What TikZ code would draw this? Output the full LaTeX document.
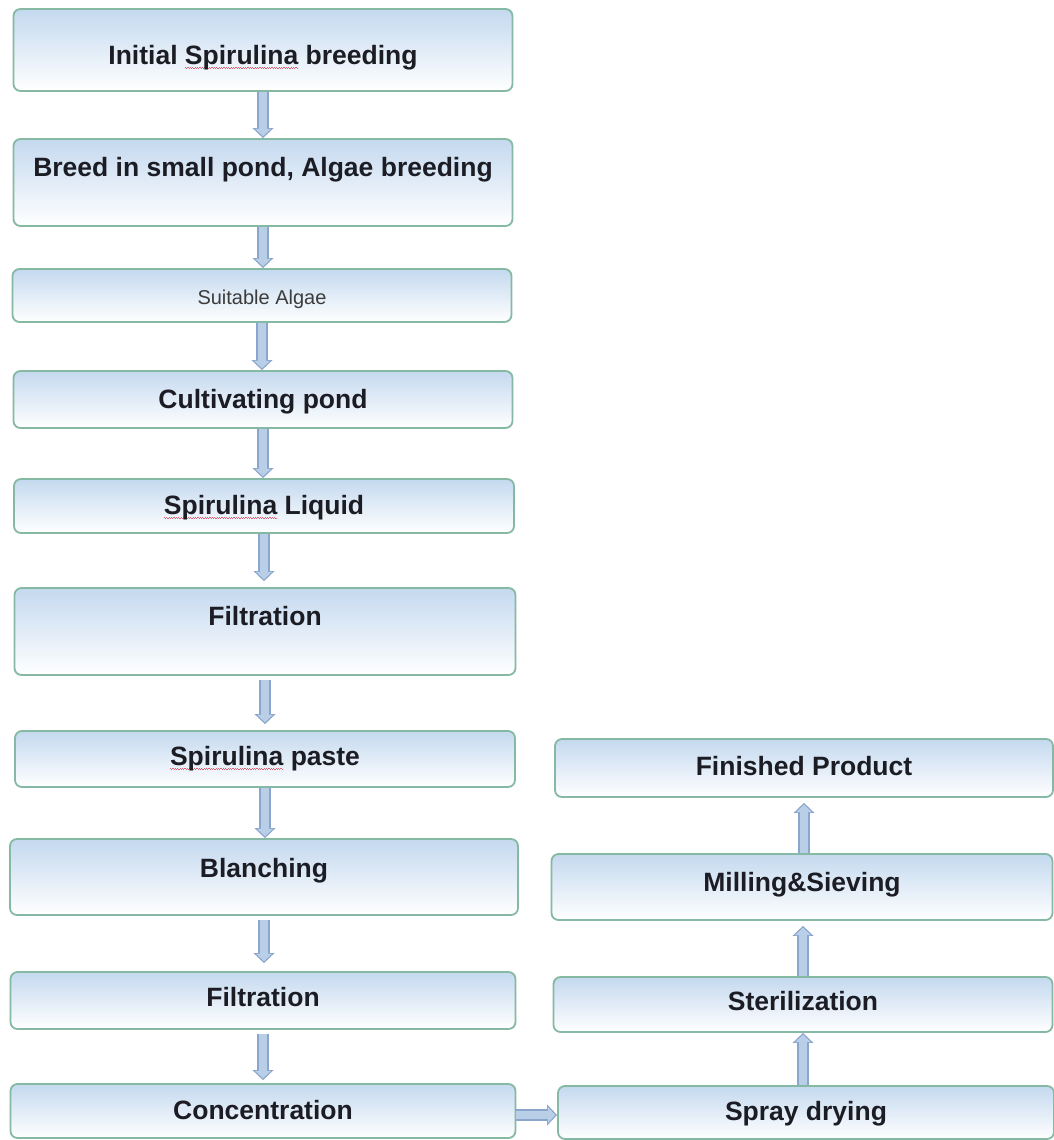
\documentclass[tikz,border=0pt]{standalone}
\usepackage{fontspec}
\setmainfont{Liberation Sans}
\usetikzlibrary{arrows.meta}
\definecolor{stageline}{HTML}{86B9A3}
\definecolor{stagetop}{HTML}{C4D9EF}
\definecolor{stagetext}{HTML}{1C1C24}
\definecolor{suittext}{HTML}{3C3C3C}
\definecolor{flowedge}{HTML}{8AA6CC}
\definecolor{flowfill}{HTML}{B9CFE8}
\definecolor{spellred}{HTML}{E06070}
\newsavebox{\spellbox}
\newcommand{\spellchk}[1]{\sbox{\spellbox}{#1}%
  \rlap{\hbox to\wd\spellbox{\color{spellred}%
    \leaders\hbox{\rule[-3.6pt]{1.2pt}{0.7pt}\rule[-4.6pt]{1.2pt}{0.7pt}}\hfil}}%
  \usebox{\spellbox}}

\begin{document}
\begin{tikzpicture}[x=1pt,y=-1pt,
    stage/.style={draw=stageline,line width=1.8pt,rounded corners=7pt,
      top color=stagetop,bottom color=white,inner sep=0pt,anchor=base,
      text=stagetext,font=\bfseries\fontsize{26.5}{30}\selectfont},
    flow/.style={draw=flowedge,line width=11.5pt,
      -{Triangle[length=10pt,width=21pt,line width=0pt]},
      postaction={draw=flowfill,line width=8pt,
        -{Triangle[length=7.5pt,width=16pt,line width=0pt]},shorten >=1.8pt}}]
    \path[use as bounding box,fill=white] (0,0) rectangle (1054,1140);

    \node[stage,minimum width=499pt,text height=55pt,text depth=27pt] (init) at (263,64) {Initial \spellchk{Spirulina} breeding};
    \node[stage,minimum width=499pt,text height=37pt,text depth=50pt] (breed) at (263,176) {Breed in small pond, Algae breeding};
    \node[stage,minimum width=499pt,text height=35pt,text depth=18pt,text=suittext,font=\fontsize{20}{24}\selectfont] (suit) at (262,304) {Suitable Algae};
    \node[stage,minimum width=499pt,text height=37pt,text depth=20pt] (cult) at (263,408) {Cultivating pond};
    \node[stage,minimum width=500pt,text height=35pt,text depth=19pt] (liquid) at (264,514) {\spellchk{Spirulina} Liquid};
    \node[stage,minimum width=501pt,text height=37pt,text depth=50pt] (filtA) at (265,625) {Filtration};
    \node[stage,minimum width=500pt,text height=34pt,text depth=22pt] (paste) at (265,765) {\spellchk{Spirulina} paste};
    \node[stage,minimum width=508pt,text height=38pt,text depth=38pt] (blanch) at (264,877) {Blanching};
    \node[stage,minimum width=505pt,text height=34pt,text depth=23pt] (filtB) at (263,1006) {Filtration};
    \node[stage,minimum width=505pt,text height=35pt,text depth=19pt] (conc) at (263,1119) {Concentration};

    \node[stage,minimum width=498pt,text height=36pt,text depth=22pt] (finish) at (804,775) {Finished Product};
    \node[stage,minimum width=501pt,text height=37pt,text depth=29pt] (mill) at (802,891) {Milling\&Sieving};
    \node[stage,minimum width=499pt,text height=33pt,text depth=22pt] (steril) at (803,1010) {Sterilization};
    \node[stage,minimum width=496pt,text height=34pt,text depth=19pt] (spray) at (806,1120) {Spray drying};

    \draw[flow] (init.south) -- (init.south |- breed.north);
    \draw[flow] (breed.south) -- (breed.south |- suit.north);
    \draw[flow] (suit.south) -- (suit.south |- cult.north);
    \draw[flow] (cult.south) -- (cult.south |- liquid.north);
    \draw[flow] (liquid.south) -- ([yshift=6pt]liquid.south |- filtA.north);
    \draw[flow] ([yshift=-4pt]filtA.south) -- ([yshift=6pt]filtA.south |- paste.north);
    \draw[flow] (paste.south) -- (paste.south |- blanch.north);
    \draw[flow] ([yshift=-4pt]blanch.south) -- ([yshift=8pt]blanch.south |- filtB.north);
    \draw[flow] ([yshift=-4pt]filtB.south) -- ([yshift=3pt]filtB.south |- conc.north);
    \draw[flow] ([yshift=-4pt]conc.east) -- ([yshift=-4pt]conc.east -| spray.west);
    \draw[flow] (spray.north -| steril.south) -- (steril.south);
    \draw[flow] (steril.north) -- ([yshift=-5pt]steril.north |- mill.south);
    \draw[flow] (mill.north -| finish.south) -- ([yshift=-5pt]finish.south);
\end{tikzpicture}
\end{document}
